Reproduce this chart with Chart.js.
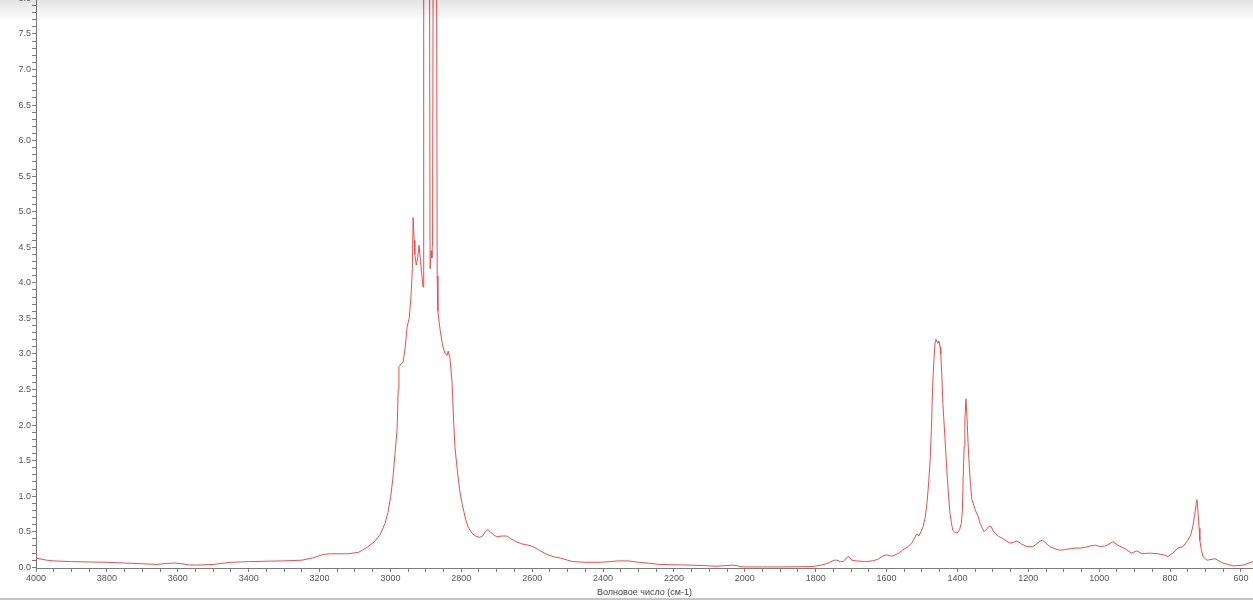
<!DOCTYPE html>
<html>
<head>
<meta charset="utf-8">
<script src="https://cdn.jsdelivr.net/npm/chart.js@4"></script>
<style>
  html, body { margin: 0; padding: 0; background: #fff; overflow: hidden; }
  #wrap { position: absolute; left: 0; top: -8px; width: 1253px; height: 608px; }
  #shade { position: absolute; left: 0; top: 0; width: 1253px; height: 22px; pointer-events: none;
           background: linear-gradient(to bottom, rgba(0,0,0,0.11), rgba(0,0,0,0)); }
  #rule { position: absolute; left: 0; top: 598px; width: 1253px; height: 2px; background: #c4c4c4; }
</style>
</head>
<body>
<div id="wrap"><canvas id="spectrum"></canvas></div>
<div id="shade"></div>
<div id="rule"></div>
<script>
// wavenumber, cm-1 (descending)
const waveNumbers = [
  4000, 3970, 3950, 3900, 3850, 3800, 3750, 3700, 3660, 3630, 3610, 3590, 3570, 3550,
  3500, 3450, 3400, 3350, 3300, 3250, 3220, 3190, 3170, 3120, 3090, 3066, 3045, 3029,
  3015, 3007, 2999, 2993, 2987, 2981, 2978, 2976, 2970, 2964, 2958, 2953, 2947, 2942,
  2938, 2936, 2933, 2931, 2927, 2923, 2919, 2915, 2911, 2908, 2906, 2890, 2888, 2885,
  2883, 2881, 2879, 2870, 2868, 2866, 2860, 2852, 2845, 2840, 2837, 2832, 2826, 2822,
  2818, 2812, 2805, 2798, 2788, 2781, 2770, 2760, 2748, 2740, 2732, 2725, 2718, 2710,
  2700, 2685, 2671, 2660, 2645, 2630, 2610, 2597, 2580, 2558, 2540, 2521, 2500, 2485,
  2450, 2409, 2380, 2358, 2330, 2300, 2276, 2240, 2200, 2146, 2100, 2079, 2050, 2033,
  2020, 2005, 1950, 1909, 1850, 1808, 1785, 1770, 1760, 1748, 1740, 1730, 1722, 1712,
  1706, 1698, 1685, 1660, 1640, 1625, 1610, 1599, 1590, 1582, 1565, 1554, 1540, 1529,
  1520, 1515, 1509, 1503, 1497, 1491, 1486, 1481, 1477, 1473, 1470, 1466, 1463, 1461,
  1458, 1455, 1452, 1449, 1447, 1444, 1441, 1435, 1430, 1425, 1421, 1417, 1413, 1407,
  1401, 1394, 1389, 1386, 1384, 1381, 1379, 1376, 1373, 1370, 1367, 1363, 1359, 1350,
  1342, 1336, 1330, 1325, 1317, 1310, 1305, 1300, 1294, 1285, 1274, 1262, 1252, 1242,
  1232, 1220, 1204, 1187, 1176, 1167, 1160, 1150, 1139, 1125, 1111, 1095, 1082, 1068,
  1054, 1040, 1026, 1010, 997, 985, 978, 961, 947, 927, 909, 894, 879, 857,
  834, 815, 806, 792, 778, 764, 750, 742, 736, 730, 726, 724, 721, 718,
  716, 712, 707, 696, 673, 651, 622, 594, 566
];

// absorbance
const absorbance = [
  0.13, 0.10, 0.09, 0.08, 0.075, 0.07, 0.06, 0.05, 0.04, 0.055, 0.06, 0.05, 0.035, 0.03,
  0.04, 0.07, 0.08, 0.085, 0.09, 0.10, 0.13, 0.18, 0.19, 0.19, 0.21, 0.28, 0.36, 0.46,
  0.62, 0.77, 1.0, 1.25, 1.6, 1.95, 2.5, 2.82, 2.86, 2.89, 3.1, 3.38, 3.5, 3.8,
  4.2, 4.92, 4.6, 4.4, 4.25, 4.35, 4.53, 4.3, 4.1, 3.94, 9.5, 9.5, 4.2, 4.45,
  4.35, 4.6, 9.5, 9.5, 4.1, 3.6, 3.35, 3.1, 3.0, 2.98, 3.04, 2.95, 2.6, 2.1,
  1.7, 1.4, 1.1, 0.9, 0.68, 0.57, 0.48, 0.44, 0.42, 0.44, 0.5, 0.53, 0.5, 0.46,
  0.43, 0.44, 0.44, 0.4, 0.36, 0.33, 0.31, 0.29, 0.24, 0.18, 0.15, 0.13, 0.10, 0.08,
  0.07, 0.07, 0.08, 0.09, 0.09, 0.07, 0.06, 0.04, 0.035, 0.03, 0.02, 0.015, 0.025, 0.03,
  0.02, 0.005, 0.005, 0.005, 0.007, 0.01, 0.03, 0.05, 0.07, 0.1, 0.1, 0.08, 0.08, 0.14,
  0.15, 0.1, 0.09, 0.08, 0.09, 0.11, 0.16, 0.175, 0.16, 0.16, 0.2, 0.245, 0.29, 0.34,
  0.42, 0.47, 0.44, 0.5, 0.57, 0.7, 0.9, 1.2, 1.51, 2.0, 2.54, 2.95, 3.17, 3.21,
  3.18, 3.15, 3.18, 3.1, 3.0, 2.7, 2.3, 1.8, 1.37, 1.0, 0.76, 0.62, 0.52, 0.49,
  0.48, 0.53, 0.62, 0.8, 1.23, 1.7, 2.07, 2.37, 2.11, 1.75, 1.46, 1.15, 0.95, 0.81,
  0.72, 0.62, 0.55, 0.5, 0.54, 0.58, 0.57, 0.52, 0.48, 0.44, 0.41, 0.37, 0.34, 0.35,
  0.37, 0.33, 0.29, 0.29, 0.33, 0.37, 0.38, 0.34, 0.29, 0.26, 0.24, 0.25, 0.26, 0.27,
  0.27, 0.28, 0.3, 0.31, 0.29, 0.3, 0.31, 0.36, 0.31, 0.26, 0.2, 0.23, 0.19, 0.2,
  0.19, 0.17, 0.15, 0.2, 0.27, 0.29, 0.38, 0.45, 0.57, 0.76, 0.9, 0.95, 0.76, 0.55,
  0.38, 0.25, 0.15, 0.1, 0.12, 0.06, 0.02, 0.03, 0.08
];

const xTitle = "Волновое число (см-1)";
const xMajor = 200, xMinor = 50;
const yMajor = 0.5, yMinor = 0.1;

const points = waveNumbers.map((w, i) => ({ x: w, y: absorbance[i] }));

function tickList(from, to, step) {
  const out = [];
  const n = Math.round((to - from) / step);
  for (let i = 0; i <= n; i++) out.push({ value: +(from + i * step).toFixed(3) });
  return out;
}

function isMajor(v, major) {
  const r = v / major;
  return Math.abs(r - Math.round(r)) < 1e-6;
}

const axisColor = "#7a7a7a";
const labelFont = { family: "'Liberation Sans', Arial, sans-serif", size: 9 };

new Chart(document.getElementById("spectrum").getContext("2d"), {
  type: "line",
  data: {
    datasets: [{
      data: points,
      borderColor: "#f04c4c",
      borderWidth: 1,
      pointRadius: 0,
      tension: 0,
      fill: false
    }]
  },
  options: {
    responsive: true,
    maintainAspectRatio: false,
    animation: false,
    layout: { padding: 0 },
    plugins: { legend: { display: false }, tooltip: { enabled: false } },
    scales: {
      x: {
        type: "linear",
        reverse: true,
        min: 566,
        max: 4000,
        afterBuildTicks: (axis) => { axis.ticks = tickList(600, 4000, xMinor); },
        afterFit: (axis) => { axis.height = 32; },
        ticks: {
          autoSkip: false,
          maxRotation: 0,
          padding: 1,
          color: "#555",
          font: labelFont,
          callback: (v) => (isMajor(v, xMajor) ? String(v) : "")
        },
        grid: { drawOnChartArea: false, drawTicks: true, tickLength: 4, color: axisColor },
        border: { display: true, color: axisColor },
        title: {
          display: true,
          text: xTitle,
          color: "#444",
          font: labelFont,
          padding: { top: 0, bottom: 2 }
        }
      },
      y: {
        type: "linear",
        min: -0.01,
        max: 8.0,
        afterBuildTicks: (axis) => { axis.ticks = tickList(0, 8, yMinor); },
        afterFit: (axis) => { axis.width = 36; },
        ticks: {
          autoSkip: false,
          padding: 1,
          color: "#555",
          font: labelFont,
          callback: (v) => (isMajor(v, yMajor) ? v.toFixed(1) : "")
        },
        grid: { drawOnChartArea: false, drawTicks: true, tickLength: 4, color: axisColor },
        border: { display: true, color: axisColor }
      }
    }
  }
});
</script>
</body>
</html>
